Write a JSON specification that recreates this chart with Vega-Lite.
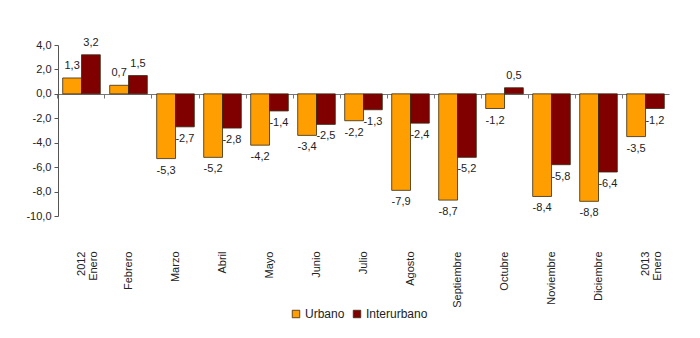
{
  "$schema": "https://vega.github.io/schema/vega-lite/v6.json",
  "autosize": {"type": "none"},
  "width": 611,
  "height": 171,
  "padding": {"left": 58, "top": 45, "right": 31, "bottom": 122},
  "background": "white",
  "config": {
    "view": {"stroke": null},
    "font": "Liberation Sans",
    "axis": {"labelFont": "Liberation Sans", "labelFontSize": 11, "labelColor": "#222", "grid": false},
    "axisY": {
      "title": null, "values": [-10, -8, -6, -4, -2, 0, 2, 4],
      "labelExpr": "(datum.value < 0 ? '-' : '') + replace(format(abs(datum.value), '.1f'), '.', ',')",
      "domainColor": "#555", "tickColor": "#555", "tickSize": 4, "labelPadding": 3
    }
  },
  "data": {
    "values": [
      {"mes": "2012|Enero", "serie": "Urbano", "v": 1.3},
      {"mes": "2012|Enero", "serie": "Interurbano", "v": 3.2},
      {"mes": "Febrero", "serie": "Urbano", "v": 0.7},
      {"mes": "Febrero", "serie": "Interurbano", "v": 1.5},
      {"mes": "Marzo", "serie": "Urbano", "v": -5.3},
      {"mes": "Marzo", "serie": "Interurbano", "v": -2.7},
      {"mes": "Abril", "serie": "Urbano", "v": -5.2},
      {"mes": "Abril", "serie": "Interurbano", "v": -2.8},
      {"mes": "Mayo", "serie": "Urbano", "v": -4.2},
      {"mes": "Mayo", "serie": "Interurbano", "v": -1.4},
      {"mes": "Junio", "serie": "Urbano", "v": -3.4},
      {"mes": "Junio", "serie": "Interurbano", "v": -2.5},
      {"mes": "Julio", "serie": "Urbano", "v": -2.2},
      {"mes": "Julio", "serie": "Interurbano", "v": -1.3},
      {"mes": "Agosto", "serie": "Urbano", "v": -7.9},
      {"mes": "Agosto", "serie": "Interurbano", "v": -2.4},
      {"mes": "Septiembre", "serie": "Urbano", "v": -8.7},
      {"mes": "Septiembre", "serie": "Interurbano", "v": -5.2},
      {"mes": "Octubre", "serie": "Urbano", "v": -1.2},
      {"mes": "Octubre", "serie": "Interurbano", "v": 0.5},
      {"mes": "Noviembre", "serie": "Urbano", "v": -8.4},
      {"mes": "Noviembre", "serie": "Interurbano", "v": -5.8},
      {"mes": "Diciembre", "serie": "Urbano", "v": -8.8},
      {"mes": "Diciembre", "serie": "Interurbano", "v": -6.4},
      {"mes": "2013|Enero", "serie": "Urbano", "v": -3.5},
      {"mes": "2013|Enero", "serie": "Interurbano", "v": -1.2}
    ]
  },
  "transform": [
    {"calculate": "(datum.v < 0 ? '-' : '') + replace(format(abs(datum.v), '.1f'), '.', ',')", "as": "label"}
  ],
  "resolve": {"axis": {"x": "independent"}},
  "layer": [
    {
      "mark": {"type": "bar", "stroke": "#3a2a10", "strokeWidth": 0.8},
      "encoding": {
        "x": {
          "field": "mes", "type": "nominal", "sort": null,
          "scale": {"paddingInner": 0.2, "paddingOuter": 0.1},
          "axis": {
            "orient": "bottom", "title": null, "domain": false, "ticks": false,
            "labelAngle": -90, "labelPadding": 35,
            "labelExpr": "split(datum.value, '|')", "labelLineHeight": 12
          }
        },
        "xOffset": {"field": "serie", "type": "nominal", "sort": ["Urbano", "Interurbano"], "scale": {"paddingInner": 0, "paddingOuter": 0}},
        "y": {
          "field": "v", "type": "quantitative",
          "scale": {"domain": [-10, 4], "nice": false, "zero": false}
        },
        "color": {
          "field": "serie", "type": "nominal", "sort": ["Urbano", "Interurbano"],
          "scale": {"domain": ["Urbano", "Interurbano"], "range": ["#FF9E00", "#800000"]},
          "legend": {
            "title": null, "orient": "none", "direction": "horizontal",
            "legendX": 232, "legendY": 263, "padding": 0,
            "symbolType": "square", "symbolSize": 56,
            "symbolStrokeColor": "#3a2a10", "symbolStrokeWidth": 0.8,
            "labelFont": "Liberation Sans", "labelFontSize": 12, "labelColor": "#222",
            "columnPadding": 6, "labelOffset": 3
          }
        }
      }
    },
    {
      "transform": [{"filter": "datum.v >= 0"}],
      "mark": {"type": "text", "baseline": "alphabetic", "dy": -9, "fontSize": 11, "color": "#222"},
      "encoding": {
        "x": {
          "field": "mes", "type": "nominal", "sort": null,
          "axis": {
            "orient": "bottom", "title": null, "offset": -122, "labels": false,
            "domain": true, "domainColor": "#777", "ticks": true, "tickColor": "#777",
            "tickSize": 4, "bandPosition": -0.125
          }
        },
        "xOffset": {"field": "serie", "type": "nominal", "sort": ["Urbano", "Interurbano"]},
        "y": {"field": "v", "type": "quantitative"},
        "text": {"field": "label"}
      }
    },
    {
      "transform": [{"filter": "datum.v < 0"}],
      "mark": {"type": "text", "baseline": "top", "dy": 6, "fontSize": 11, "color": "#222"},
      "encoding": {
        "x": {"field": "mes", "type": "nominal", "sort": null, "axis": null},
        "xOffset": {"field": "serie", "type": "nominal", "sort": ["Urbano", "Interurbano"]},
        "y": {"field": "v", "type": "quantitative"},
        "text": {"field": "label"}
      }
    }
  ]
}
